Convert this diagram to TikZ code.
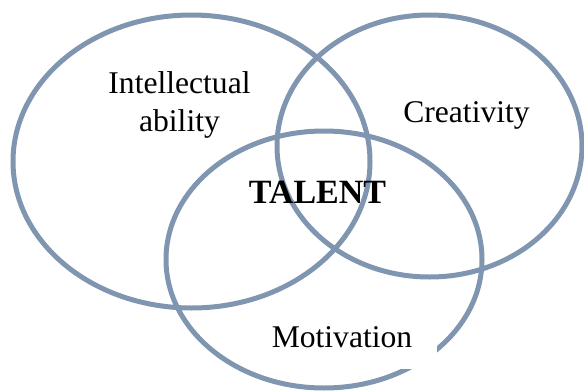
\documentclass[tikz,border=0pt]{standalone}
\usepackage{fontspec}
\setmainfont{Liberation Serif}
\definecolor{ringcol}{RGB}{127,149,176}
\begin{document}
\begin{tikzpicture}[x=1pt,y=-1pt,
  ring/.style={draw=ringcol,line width=5pt},
  lbl/.style={inner sep=0pt,align=center,font=\fontsize{31.6}{38}\selectfont,anchor=base},
  boldlbl/.style={inner sep=0pt,font=\fontsize{34}{38}\selectfont\bfseries,anchor=base}]
\useasboundingbox (0,0) rectangle (584,391);
\coordinate (cl) at (191.5,161.5);
\coordinate (cr) at (429.5,146);
\coordinate (cb) at (324,259.5);
\draw[ring] (cl) ellipse [x radius=178.5, y radius=146.5];
\draw[ring] (cr) ellipse [x radius=152.5, y radius=131];
\draw[ring] (cb) ellipse [x radius=158, y radius=128.5];
\fill[white] (265,312) rectangle (437,369);
\node[lbl] (int) at (179.5,93) {Intellectual};
\node[lbl] (abi) at (179.5,131) {ability};
\node[lbl] (cre) at (466.5,122) {Creativity};
\node[boldlbl] (tal) at (317.5,203) {TALENT};
\node[lbl] (mot) at (342,347) {Motivation};
\end{tikzpicture}
\end{document}
